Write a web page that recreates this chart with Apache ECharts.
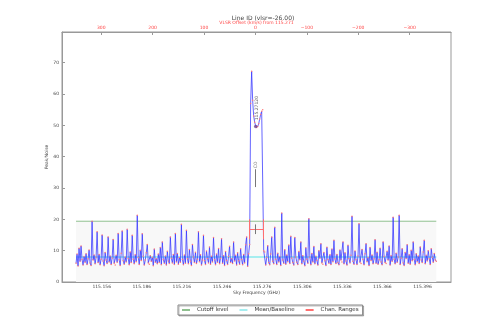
<!DOCTYPE html>
<html>
<head>
<meta charset="utf-8">
<script src="https://cdn.jsdelivr.net/npm/echarts@6/dist/echarts.min.js"></script>
<style>
html, body { margin: 0; padding: 0; background: #fff; }
#chart { width: 498px; height: 332px; }
</style>
</head>
<body>
<div id="chart"></div>
<script>
// spectrum channels (sky frequency, GHz)
var chanStart = 115.1368;
var chanWidth = 0.0007507;
var peakNoise = [
    6.0, 8.9, 5.1, 10.8, 6.6, 11.5, 7.2, 5.4, 8.1, 6.3, 9.0, 5.6, 7.4, 10.2, 6.1, 5.3, 19.4, 7.0, 8.6, 5.8,
    7.9, 16.0, 6.2, 8.8, 5.5, 7.3, 15.0, 6.7, 5.2, 9.4, 7.0, 5.9, 14.4, 6.4, 8.3, 5.6, 7.7, 13.6, 6.0, 5.4,
    8.5, 6.3, 15.5, 7.1, 5.3, 9.2, 16.3, 6.8, 5.7, 8.0, 6.4, 16.8, 7.5, 5.5, 9.6, 6.2, 14.9, 7.3, 5.8, 8.7,
    6.5, 21.3, 7.8, 5.6, 10.1, 6.9, 15.4, 8.2, 5.4, 7.0, 9.3, 12.0, 6.1, 5.7, 8.4, 6.6, 7.9, 5.2, 10.5, 6.3,
    7.4, 5.8, 8.9, 6.2, 11.0, 5.5, 12.8, 7.1, 6.0, 8.3, 5.4, 9.8, 6.7, 5.9, 14.4, 7.6, 6.1, 8.8, 5.6, 15.5,
    6.4, 9.1, 5.7, 7.8, 6.3, 18.4, 7.2, 5.5, 8.6, 6.0, 16.5, 7.4, 5.8, 10.4, 6.6, 5.3, 12.0, 8.0, 6.2, 9.5,
    5.9, 7.3, 16.0, 6.5, 8.7, 5.4, 7.0, 14.9, 6.8, 5.6, 9.9, 7.5, 6.1, 11.2, 5.7, 8.2, 6.4, 14.2, 7.1, 5.5,
    8.9, 6.3, 10.7, 5.8, 7.6, 13.8, 6.0, 8.4, 5.3, 9.7, 6.9, 5.6, 8.1, 11.4, 6.2, 7.4, 5.9, 12.8, 6.7, 8.5,
    5.4, 9.3, 6.8, 5.7, 10.6, 7.2, 5.5, 8.8, 6.1, 11.9, 14.4, 5.0, 9.0, 12.0, 57.0, 67.3, 58.0, 53.0, 51.0, 49.8,
    49.3, 49.6, 50.5, 52.0, 53.5, 54.5, 55.0, 10.0, 9.6, 5.4, 7.8, 11.6, 6.2, 5.5, 8.9, 14.4, 6.6, 5.8, 17.5, 7.3,
    5.6, 9.2, 6.4, 8.1, 5.3, 22.0, 7.0, 6.0, 10.3, 5.7, 8.6, 6.5, 11.8, 5.9, 14.6, 7.7, 6.2, 5.4, 14.2, 8.0,
    6.3, 5.6, 9.7, 7.1, 12.8, 5.8, 8.4, 6.6, 5.2, 10.9, 7.3, 6.0, 20.2, 7.9, 5.5, 9.1, 6.4, 11.3, 5.8, 8.2,
    6.9, 5.4, 10.0, 7.6, 12.2, 6.1, 5.7, 9.4, 6.8, 5.3, 11.1, 7.2, 6.0, 8.7, 5.6, 10.5, 6.5, 13.3, 7.4, 5.9,
    8.8, 6.2, 5.5, 10.2, 7.0, 6.4, 12.8, 5.8, 9.3, 6.7, 5.4, 11.7, 7.5, 6.1, 8.5, 21.0, 6.6, 5.7, 9.9, 7.1,
    5.6, 8.3, 18.6, 6.3, 5.9, 10.4, 7.2, 5.5, 9.0, 12.2, 6.5, 7.8, 5.3, 11.0, 6.9, 8.6, 5.8, 7.4, 13.5, 6.0,
    9.5, 5.7, 7.1, 10.8, 6.4, 5.5, 12.8, 8.1, 6.2, 5.9, 9.8, 7.0, 11.5, 5.4, 8.4, 6.6, 20.7, 7.3, 5.8, 9.2,
    6.3, 8.0, 21.3, 5.6, 7.7, 10.6, 6.1, 5.3, 9.4, 7.5, 11.9, 6.0, 8.7, 5.7, 10.1, 6.8, 12.8, 7.2, 5.5, 9.0,
    6.5, 8.3, 5.9, 11.2, 7.0, 6.2, 9.6, 13.3, 5.8, 8.5, 6.7, 10.0, 7.4, 5.6, 10.6, 7.9, 6.3, 9.1, 7.0, 6.6
];
var cutoffLevel = 19.4;
var meanBaseline = 8.0;
var chanRange = [115.2663, 115.2768];   // red channel range
var chanRangeLevel = 16.7;
var restFreq = 115.271;
var lineFreq = 115.2712;
var lineLabel = '115.27120';
var lineName = 'CO';

var freqTicks = [115.156, 115.186, 115.216, 115.246, 115.276, 115.306, 115.336, 115.366, 115.396];
var vlsrTicks = [300, 200, 100, 0, -100, -200, -300];
var yTicks = [0, 10, 20, 30, 40, 50, 60, 70];
var freqMin = 115.1263, freqMax = 115.4173;

var C = 299792.458;
function toVlsr(f) { return (restFreq - f) / restFreq * C; }
function minus(v) { return v < 0 ? '\u2212' + (-v) : String(v); }

var spec = peakNoise.map(function (v, i) { return [chanStart + i * chanWidth, v]; });
var fFirst = spec[0][0], fLast = spec[spec.length - 1][0];

var font = 'DejaVu Sans';
var chart = echarts.init(document.getElementById('chart'));
var option = {
    animation: false,
    title: {
        text: 'Line ID (vlsr=-26.00)',
        left: 258, top: 10, textAlign: 'center',
        textStyle: { fontFamily: font, fontSize: 6, fontWeight: 'normal', color: '#444' }
    },
    grid: { left: 62, right: 47, top: 32, bottom: 50, show: true, borderColor: '#999', borderWidth: 1 },
    legend: {
        data: ['Cutoff level', 'Mean/Baseline', 'Chan. Ranges'],
        left: 178, top: 305, itemWidth: 8, itemHeight: 2, itemGap: 11,
        padding: [2, 4, 2, 4],
        borderColor: '#888', borderWidth: 1,
        shadowColor: 'rgba(0,0,0,0.25)', shadowOffsetX: 1, shadowOffsetY: 1, shadowBlur: 0,
        backgroundColor: '#fff',
        icon: 'rect',
        textStyle: { fontFamily: font, fontSize: 5.5, color: '#333', padding: [0, 0, 0, 2] }
    },
    xAxis: [{
        type: 'value', min: freqMin, max: freqMax, position: 'bottom',
        name: 'Sky Frequency (GHz)', nameLocation: 'middle', nameGap: 8, nameMoveOverlap: false,
        nameTextStyle: { fontFamily: font, fontSize: 4.5, color: '#444' },
        axisLine: { show: true, onZero: false, lineStyle: { color: '#999' } },
        axisTick: { inside: true, length: 3, customValues: freqTicks, lineStyle: { color: '#999' } },
        axisLabel: { customValues: freqTicks, margin: 2, fontFamily: font, fontSize: 4.5, color: '#444',
            formatter: function (v) { return v.toFixed(3); } },
        splitLine: { show: false }
    }, {
        type: 'value', min: toVlsr(freqMax), max: toVlsr(freqMin), position: 'top', inverse: true,
        name: 'VLSR Offset (km/s) from 115.271', nameLocation: 'middle', nameGap: 7, nameMoveOverlap: false,
        nameTextStyle: { fontFamily: font, fontSize: 4.5, color: '#ff4444' },
        axisLine: { show: true, onZero: false, lineStyle: { color: '#999' } },
        axisTick: { inside: true, length: 3, customValues: vlsrTicks, lineStyle: { color: '#999' } },
        axisLabel: { customValues: vlsrTicks, margin: 2, fontFamily: font, fontSize: 4.5, color: '#ff4444',
            formatter: minus },
        splitLine: { show: false }
    }],
    yAxis: {
        type: 'value', min: 0, max: 79.8,
        name: 'Peak/Noise', nameLocation: 'middle', nameGap: 13, nameMoveOverlap: false,
        nameTextStyle: { fontFamily: font, fontSize: 4.5, color: '#444' },
        axisLine: { show: true, onZero: false, lineStyle: { color: '#999' } },
        axisTick: { inside: true, length: 3, customValues: yTicks, lineStyle: { color: '#999' } },
        axisLabel: { customValues: yTicks, margin: 3, fontFamily: font, fontSize: 4.5, color: '#444' },
        splitLine: { show: false }
    },
    series: [{
        name: 'spectrum', type: 'line', xAxisIndex: 0, data: spec, z: 3,
        symbol: 'circle', symbolSize: 1.5, showSymbol: true,
        itemStyle: { color: '#ff7a7a' },
        lineStyle: { color: 'rgba(50,50,255,0.75)', width: 1 },
        markArea: {
            silent: true,
            itemStyle: { color: '#f8f8f8' },
            data: [[{ coord: [fFirst, 0] }, { coord: [fLast, cutoffLevel] }]]
        }
    }, {
        name: 'Mean/Baseline', type: 'line', xAxisIndex: 0, z: 2,
        data: [[fFirst, meanBaseline], [fLast, meanBaseline]],
        symbol: 'none', itemStyle: { color: '#a6eef0' },
        lineStyle: { color: '#a6eef0', width: 2 }
    }, {
        name: 'Cutoff level', type: 'line', xAxisIndex: 0, z: 2,
        data: [[fFirst, cutoffLevel], [fLast, cutoffLevel]],
        symbol: 'none', itemStyle: { color: '#8fc08f' },
        lineStyle: { color: '#8fc08f', width: 1 }
    }, {
        name: 'Chan. Ranges', type: 'line', xAxisIndex: 0, z: 4, data: [],
        symbol: 'none', itemStyle: { color: '#ff6f6f' }, lineStyle: { color: '#ff6f6f', width: 1 },
        markLine: {
            silent: true, symbol: 'none', label: { show: false },
            lineStyle: { color: '#ff6f6f', width: 1, type: 'solid' },
            data: [
                [{ coord: [chanRange[0], chanRangeLevel] }, { coord: [chanRange[1], chanRangeLevel] }],
                [{ coord: [chanRange[0], 20.0] }, { coord: [chanRange[0], 13.6] }],
                [{ coord: [chanRange[1], 20.0] }, { coord: [chanRange[1], 13.6] }],
                [{ coord: [lineFreq, 18.4], lineStyle: { color: '#777' } },
                 { coord: [lineFreq, 15.3] }],
                [{ coord: [lineFreq, 36.0], lineStyle: { color: '#777' } },
                 { coord: [lineFreq, 30.3] }]
            ]
        }
    }, {
        name: 'labels', type: 'scatter', xAxisIndex: 0, z: 5, symbolSize: 0,
        data: [
            { value: [lineFreq + 0.0010, 55.5], label: { formatter: lineLabel } },
            { value: [lineFreq, 37.4], label: { formatter: lineName } }
        ],
        label: { show: true, position: 'inside', rotate: 90, fontFamily: font, fontSize: 4.5, color: '#444' }
    }, {
        name: 'marker', type: 'scatter', xAxisIndex: 0, z: 5, symbolSize: 3.5,
        itemStyle: { color: '#6a4a9a' },
        data: [[lineFreq, 49.6]]
    }]
};
chart.setOption(option);
</script>
</body>
</html>
